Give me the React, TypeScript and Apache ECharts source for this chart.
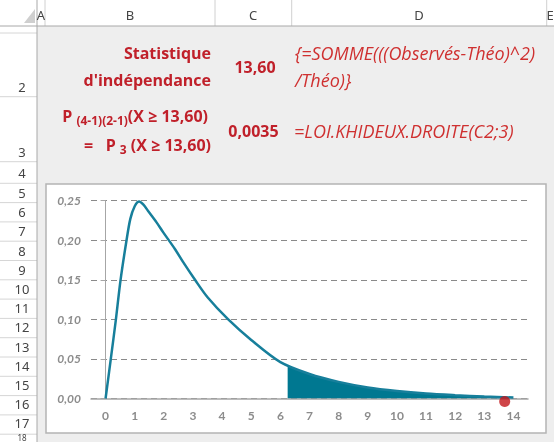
import React, { useEffect, useRef } from "react";
import * as echarts from "echarts";

// Chi-square (3 d.f.) density curve
const curveX = [0, 0.18, 0.355, 0.515, 0.72, 0.85, 1.0, 1.155, 1.3, 1.46, 1.75, 1.98, 2.38, 2.67, 3.07, 3.5, 4.21, 5, 6, 7, 8, 9, 10, 11, 12, 13, 14];
const curveY = [0, 0.05, 0.1, 0.15, 0.2, 0.227, 0.243, 0.249, 0.245, 0.237, 0.2226, 0.21, 0.189, 0.172, 0.15, 0.128, 0.1, 0.074, 0.046, 0.031, 0.021, 0.014, 0.0095, 0.0063, 0.0042, 0.0025, 0.0012];
// Shaded rejection region
const areaX = [6.25, 7, 8, 9, 10, 11, 12, 13, 13.9];
const areaY = [0.041, 0.031, 0.021, 0.014, 0.0095, 0.0063, 0.0042, 0.0025, 0.0014];
// Observed statistic marker
const statPoint = [13.7, 0];

const yTicks = ["0,00", "0,05", "0,10", "0,15", "0,20", "0,25"];
const columnLetters = ["A", "B", "C", "D", "E"];
const rowNumbers = ["2", "3", "4", "5", "6", "7", "8", "9", "10", "11", "12", "13", "14", "15", "16", "17", "18"];

const RED = "#c0202a";
const RED2 = "#cf3030";
const SHEET_FONT = "Open Sans";
const AXIS_FONT = "Lato";
const HEAD_FONT = "Noto Sans";

export default function App() {
  const ref = useRef<HTMLDivElement>(null);

  useEffect(() => {
    if (!ref.current) return;
    const chart = echarts.init(ref.current, null, { renderer: "svg" });

    const g: any[] = [];
    // backgrounds
    g.push({ type: "rect", z: -10, shape: { x: 0, y: 0, width: 554, height: 442 }, style: { fill: "#eeeeee" } });
    g.push({ type: "rect", z: -9, shape: { x: 0, y: 0, width: 554, height: 26 }, style: { fill: "#ffffff" } });
    g.push({ type: "rect", z: -9, shape: { x: 0, y: 0, width: 37, height: 442 }, style: { fill: "#ffffff" } });
    // corner triangle
    g.push({ type: "polygon", z: -8, shape: { points: [[24, 23], [35, 23], [35, 9]] }, style: { fill: "#cfcfcf" } });
    // column separators in header
    [45, 215, 291.7, 546.7].forEach((x) => {
      g.push({ type: "line", z: -8, shape: { x1: x, y1: 0, x2: x, y2: 26 }, style: { stroke: "#d0d0d0", lineWidth: 1 } });
    });
    // row separators
    const rowSeps = [33, 96.7, 161.7, 183.3];
    for (let i = 1; i <= 13; i++) rowSeps.push(183.3 + i * 19.3);
    rowSeps.forEach((y) => {
      g.push({ type: "line", z: -8, shape: { x1: 0, y1: y, x2: 37, y2: y }, style: { stroke: "#d6d6d6", lineWidth: 1 } });
    });
    g.push({ type: "line", z: -7, shape: { x1: 0, y1: 26, x2: 554, y2: 26 }, style: { stroke: "#a8a8a8", lineWidth: 1 } });
    g.push({ type: "line", z: -7, shape: { x1: 37, y1: 0, x2: 37, y2: 442 }, style: { stroke: "#a8a8a8", lineWidth: 1 } });

    // column letters
    const colX = [41, 130, 253, 419, 550];
    columnLetters.forEach((c, i) => {
      g.push({ type: "text", z: -6, style: { text: c, x: colX[i], y: 15, align: "center", verticalAlign: "middle", fontFamily: HEAD_FONT, fontSize: 13, fill: "#444444" } });
    });
    // row numbers
    const rowY = [87, 151.7, 172.5];
    for (let i = 0; i < 13; i++) rowY.push(193 + i * 19.2);
    rowNumbers.forEach((r, i) => {
      const last = i === rowNumbers.length - 1;
      g.push({
        type: "text",
        z: -6,
        style: {
          text: r,
          x: 22,
          y: last ? 437.5 : rowY[i],
          align: "center",
          verticalAlign: "middle",
          fontFamily: HEAD_FONT,
          fontSize: last ? 8 : 13,
          fill: "#444444",
        },
      });
    });

    // sheet texts
    const bold = { fontFamily: SHEET_FONT, fontSize: 16, fontWeight: "bold", fill: RED };
    const ital = { fontFamily: SHEET_FONT, fontSize: 18, fontStyle: "italic", fill: RED2 };
    g.push({ type: "text", style: { ...bold, text: "Statistique", x: 211, y: 53, align: "right", verticalAlign: "middle" } });
    g.push({ type: "text", style: { ...bold, text: "d'indépendance", x: 211, y: 80, align: "right", verticalAlign: "middle" } });
    g.push({ type: "text", style: { ...bold, text: "13,60", x: 255, y: 67, align: "center", verticalAlign: "middle" } });
    g.push({ type: "text", style: { ...ital, text: "{=SOMME(((Observés-Théo)^2)", x: 295, y: 53, align: "left", verticalAlign: "middle" } });
    g.push({ type: "text", style: { ...ital, text: "/Théo)}", x: 295, y: 80, align: "left", verticalAlign: "middle" } });
    const rich = {
      a: { fontFamily: SHEET_FONT, fontSize: 16, fontWeight: "bold", fill: RED, lineHeight: 19, verticalAlign: "top" },
      s: { fontFamily: SHEET_FONT, fontSize: 12, fontWeight: "bold", fill: RED, lineHeight: 12, verticalAlign: "bottom" },
    };
    g.push({ type: "text", style: { text: "{a|P }{s|(4-1)(2-1)}{a|(X ≥ 13,60)}", rich, x: 208, y: 117, align: "right", verticalAlign: "middle" } });
    g.push({ type: "text", style: { text: "{a|=   P }{s|3}{a| (X ≥ 13,60)}", rich, x: 211, y: 146, align: "right", verticalAlign: "middle" } });
    g.push({ type: "text", style: { ...bold, text: "0,0035", x: 253.5, y: 131, align: "center", verticalAlign: "middle" } });
    g.push({ type: "text", style: { ...ital, text: "=LOI.KHIDEUX.DROITE(C2;3)", x: 294, y: 131, align: "left", verticalAlign: "middle" } });

    // chart box
    g.push({ type: "rect", z: -5, shape: { x: 46, y: 184, width: 500, height: 249 }, style: { fill: "#ffffff", stroke: "#b4b4b4", lineWidth: 1.5 } });

    chart.setOption({
      animation: false,
      graphic: { elements: g },
      grid: { left: 91, right: 26, top: 200.7, bottom: 43.5, containLabel: false },
      xAxis: {
        type: "value",
        min: -0.5,
        max: 14.5,
        splitNumber: 15,
        axisLine: { show: true, onZero: false, lineStyle: { color: "#a6a6a6", width: 1.5 } },
        axisTick: { show: false },
        splitLine: { show: false },
        axisLabel: {
          margin: 11,
          color: "#8c8c8c",
          fontFamily: AXIS_FONT,
          fontWeight: "bold",
          fontSize: 12,
          formatter: (v: number) => (Math.abs(v - Math.round(v)) < 1e-6 ? String(Math.round(v)) : ""),
        },
      },
      yAxis: {
        type: "value",
        min: 0,
        max: 0.25,
        interval: 0.05,
        axisLine: { show: true, lineStyle: { color: "#a6a6a6", width: 1 } },
        axisTick: { show: true, length: 5, lineStyle: { color: "#a6a6a6" } },
        splitLine: { show: true, lineStyle: { color: "#8a8a8a", type: [6, 4], width: 1 } },
        axisLabel: {
          margin: 10,
          color: "#8c8c8c",
          fontFamily: AXIS_FONT,
          fontWeight: "bold",
          fontStyle: "italic",
          fontSize: 12,
          formatter: (v: number) => yTicks[Math.round(v / 0.05)] ?? "",
        },
      },
      series: [
        {
          type: "line",
          data: areaX.map((x, i) => [x, areaY[i]]),
          smooth: 0.3,
          symbol: "none",
          lineStyle: { width: 0 },
          areaStyle: { color: "#007891", opacity: 1 },
          z: 2,
        },
        {
          type: "line",
          data: curveX.map((x, i) => [x, curveY[i]]),
          smooth: 0.3,
          symbol: "none",
          lineStyle: { color: "#177f9b", width: 2.5 },
          z: 3,
        },
        {
          type: "scatter",
          data: [statPoint],
          symbolSize: 11,
          symbolOffset: [0, 3],
          itemStyle: { color: "#c3161c" },
          z: 4,
        },
      ],
    });
    return () => chart.dispose();
  }, []);

  return <div ref={ref} style={{ position: "fixed", left: 0, top: 0, width: 554, height: 442 }} />;
}
